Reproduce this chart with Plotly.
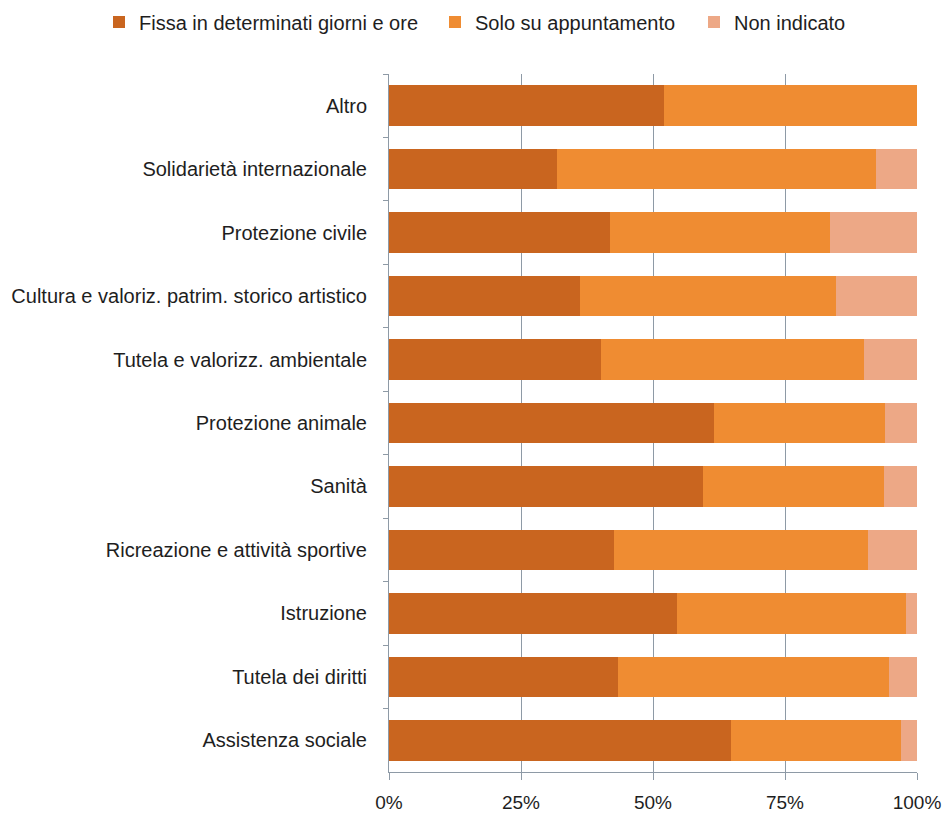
import plotly.graph_objects as go

# Settori (dall'alto verso il basso)
categories = [
    "Altro",
    "Solidarietà internazionale",
    "Protezione civile",
    "Cultura e valoriz. patrim. storico artistico",
    "Tutela e valorizz. ambientale",
    "Protezione animale",
    "Sanità",
    "Ricreazione e attività sportive",
    "Istruzione",
    "Tutela dei diritti",
    "Assistenza sociale",
]

# Quote percentuali per modalità di apertura
fissa = [52.1, 31.8, 41.9, 36.1, 40.1, 61.6, 59.4, 42.7, 54.5, 43.4, 64.8]
appuntamento = [47.9, 60.4, 41.6, 48.5, 49.8, 32.3, 34.3, 48.0, 43.5, 51.3, 32.2]
non_indicato = [0.0, 7.8, 16.5, 15.4, 10.1, 6.1, 6.3, 9.3, 2.0, 5.3, 3.0]

series_names = ["Fissa in determinati giorni e ore", "Solo su appuntamento", "Non indicato"]
series_values = [fissa, appuntamento, non_indicato]
series_colors = ["#C9651F", "#EF8C32", "#EDA886"]
legend_ids = ["legend", "legend2", "legend3"]
legend_x = [99, 435, 694]

tick_vals = [0, 25, 50, 75, 100]
tick_text = ["0%", "25%", "50%", "75%", "100%"]

FONT = "Liberation Sans Narrow, Arial Narrow, Liberation Sans, Arial, sans-serif"
TEXT_COLOR = "#1E1E1E"
GRID_COLOR = "#8E9AA6"
W, H = 943, 816

fig = go.Figure()
for name, vals, col, lg in zip(series_names, series_values, series_colors, legend_ids):
    fig.add_trace(go.Bar(
        y=categories,
        x=vals,
        name=name,
        orientation="h",
        marker=dict(color=col, line=dict(width=0)),
        legend=lg,
        showlegend=True,
        hovertemplate="%{y}: %{x:.1f}%<extra>" + name + "</extra>",
    ))

legend_common = dict(
    orientation="h",
    xref="container",
    yref="container",
    yanchor="middle",
    xanchor="left",
    y=1 - 22 / H,
    font=dict(family=FONT, size=20, color=TEXT_COLOR),
    bgcolor="rgba(0,0,0,0)",
    itemwidth=30,
    visible=True,
)

layout_legends = {
    lg: dict(legend_common, x=lx / W) for lg, lx in zip(legend_ids, legend_x)
}

fig.update_layout(
    width=W,
    height=H,
    barmode="stack",
    bargap=0.36,
    showlegend=True,
    paper_bgcolor="white",
    plot_bgcolor="white",
    margin=dict(l=389, r=26, t=74, b=44, autoexpand=False),
    font=dict(family=FONT, size=20, color=TEXT_COLOR),
    xaxis=dict(
        range=[0, 100],
        tickvals=tick_vals,
        ticktext=tick_text,
        showgrid=True,
        gridcolor=GRID_COLOR,
        gridwidth=1,
        zeroline=False,
        showline=True,
        linecolor=GRID_COLOR,
        ticks="outside",
        ticklen=7,
        tickcolor=GRID_COLOR,
        ticklabelstandoff=6,
        automargin=False,
        tickfont=dict(family=FONT, size=19, color=TEXT_COLOR),
    ),
    yaxis=dict(
        autorange="reversed",
        showgrid=False,
        showline=True,
        linecolor=GRID_COLOR,
        ticks="outside",
        ticklen=5,
        tickcolor=GRID_COLOR,
        tickson="boundaries",
        ticklabelstandoff=17,
        automargin=False,
        tickfont=dict(family=FONT, size=20, color=TEXT_COLOR),
    ),
    **layout_legends,
)

fig.write_html("out.html")
